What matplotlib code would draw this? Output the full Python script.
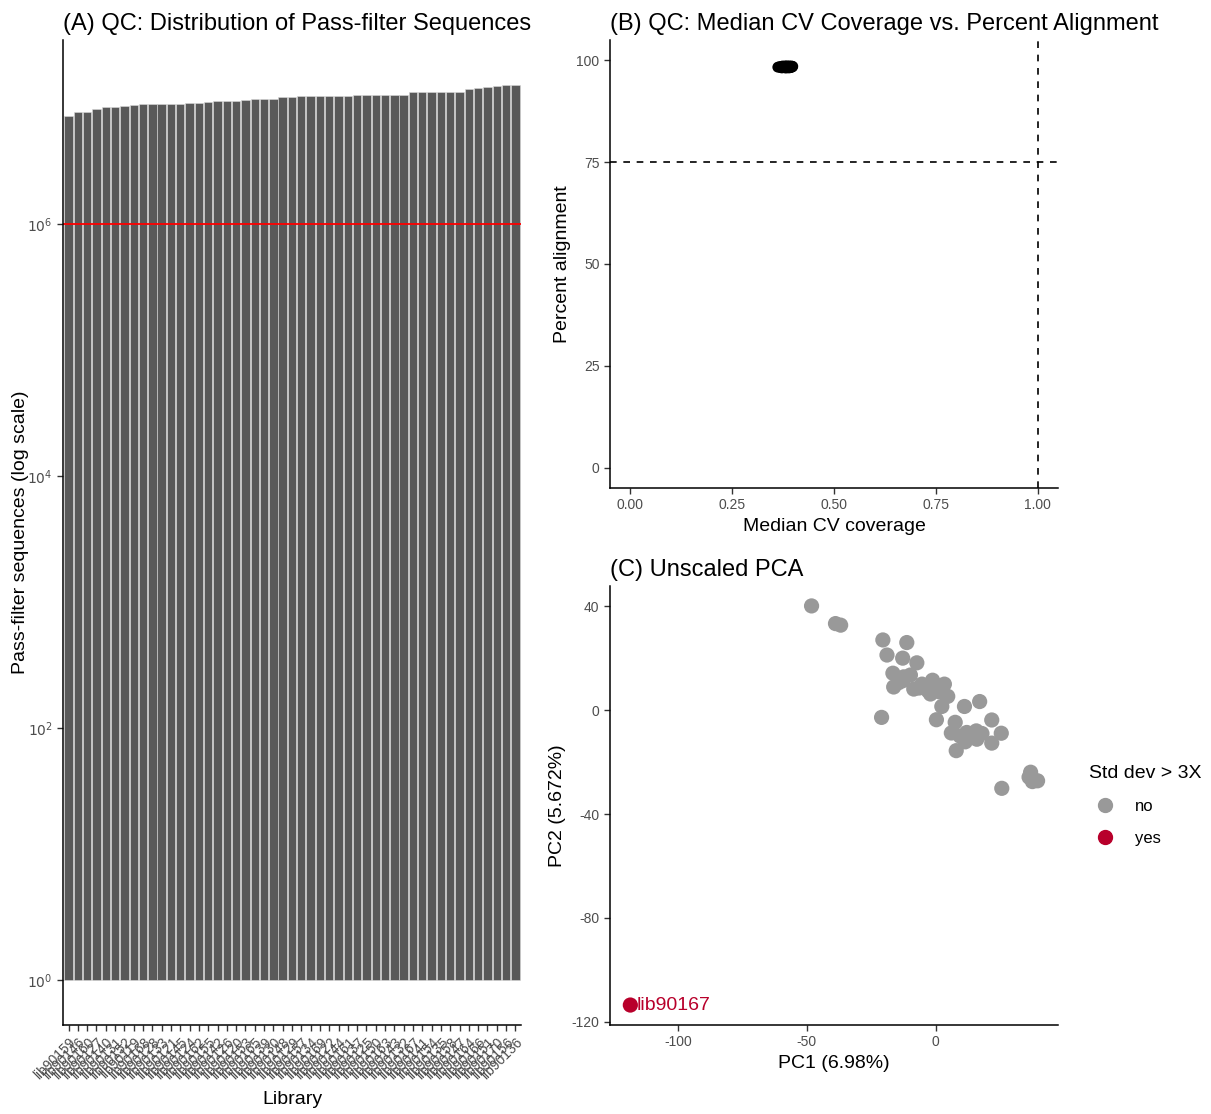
import matplotlib
matplotlib.use("Agg")
import matplotlib.pyplot as plt
from matplotlib.lines import Line2D
from matplotlib.ticker import FixedLocator, FuncFormatter, NullLocator
import numpy as np

plt.rcParams['font.family'] = ['Liberation Sans', 'DejaVu Sans']
plt.rcParams['axes.unicode_minus'] = False

# =========================
# DATA
# =========================
lib_names = ["lib90159", "lib90146", "lib90160", "lib90127", "lib90140", "lib90131", "lib90152", "lib90119", "lib90168", "lib90128",
             "lib90133", "lib90121", "lib90145", "lib90124", "lib90162", "lib90155", "lib90142", "lib90126", "lib90120", "lib90153",
             "lib90165", "lib90139", "lib90130", "lib90148", "lib90129", "lib90157", "lib90134", "lib90169", "lib90122", "lib90144",
             "lib90161", "lib90137", "lib90125", "lib90150", "lib90163", "lib90143", "lib90132", "lib90167", "lib90141", "lib90154",
             "lib90135", "lib90158", "lib90147", "lib90164", "lib90166", "lib90151", "lib90170", "lib90156", "lib90136"]

# pass-filter sequences, millions
pf_seqs_m = [7.20, 7.70, 7.80, 8.24, 8.44, 8.44, 8.71, 8.80, 8.95, 8.96,
             8.96, 8.97, 8.98, 9.08, 9.10, 9.29, 9.46, 9.53, 9.55, 9.71,
             9.76, 9.78, 9.89, 10.25, 10.27, 10.31, 10.32, 10.33, 10.33, 10.34,
             10.35, 10.57, 10.59, 10.60, 10.61, 10.62, 10.63, 11.17, 11.19, 11.20,
             11.21, 11.23, 11.25, 11.78, 12.00, 12.30, 12.53, 12.67, 12.76]
pf_threshold = 1e6

cv_coverage = [0.362, 0.365, 0.368, 0.370, 0.371, 0.372, 0.373, 0.374, 0.375, 0.376,
               0.377, 0.378, 0.378, 0.379, 0.380, 0.380, 0.381, 0.381, 0.382, 0.382,
               0.383, 0.383, 0.384, 0.384, 0.385, 0.385, 0.386, 0.386, 0.387, 0.387,
               0.388, 0.388, 0.389, 0.389, 0.390, 0.390, 0.391, 0.391, 0.392, 0.392,
               0.393, 0.393, 0.394, 0.394, 0.395, 0.396, 0.397, 0.398, 0.399]
pct_alignment = [98.3, 98.4, 98.2, 98.5, 98.3, 98.1, 98.4, 98.6, 98.2, 98.3,
                 98.5, 98.2, 98.4, 98.3, 98.6, 98.1, 98.4, 98.3, 98.5, 98.2,
                 98.4, 98.6, 98.3, 98.1, 98.5, 98.3, 98.4, 98.2, 98.6, 98.3,
                 98.4, 98.2, 98.5, 98.3, 98.1, 98.4, 98.6, 98.3, 98.5, 98.2,
                 98.4, 98.3, 98.5, 98.2, 98.4, 98.6, 98.3, 98.4, 98.5]
cv_cutoff = 1.0
align_cutoff = 75

pc1 = [-48.2, -38.9, -36.9, -20.5, -11.2, -18.9, -12.8, -7.3, -16.6, -12.4,
       -9.8, -16.3, -12.8, -8.5, -5.3, -1.2, -0.1, 3.4, -2.0, 4.7,
       2.4, 11.2, 17.1, -21.0, 0.3, 7.6, 6.1, 12.1, 15.8, 21.8,
       25.5, 11.5, 16.0, 21.8, 8.0, 25.7, 36.9, 37.6, 39.6, 36.3,
       -3.0, 14.0, 9.5, -14.5, 13.5, 18.0, -6.5, 1.5]
pc2 = [40.1, 33.3, 32.7, 27.0, 26.0, 21.2, 20.0, 18.2, 14.2, 12.8,
       13.5, 8.9, 11.3, 8.1, 10.0, 11.5, 9.0, 10.0, 6.2, 5.3,
       1.4, 1.4, 3.3, -2.8, -3.7, -4.7, -8.8, -8.6, -8.0, -3.8,
       -8.9, -12.2, -11.2, -12.7, -15.6, -30.1, -23.9, -27.5, -27.2, -25.8,
       7.5, -10.5, -10.0, 10.5, -9.5, -9.0, 8.5, 7.0]
outlier_name = "lib90167"
outlier_pc1 = -118.6
outlier_pc2 = -113.5

# =========================
# STYLE
# =========================
BAR_COL = "#595959"
GREY_PT = "#999999"
RED_PT = "#B8002B"
TICK_COL = "#4D4D4D"


def classic(ax):
    for s in ["top", "right"]:
        ax.spines[s].set_visible(False)
    for s in ["left", "bottom"]:
        ax.spines[s].set_linewidth(1.1)
        ax.spines[s].set_color("black")
    ax.tick_params(length=4, width=1.0, color="#333333", labelcolor=TICK_COL, labelsize=10)


fig = plt.figure(figsize=(12.11, 11.14), dpi=100)

# =========================
# (A) BAR CHART
# =========================
ax_a = fig.add_axes([0.0520, 0.0799, 0.3782, 0.8842])
x = np.arange(1, len(lib_names) + 1)
vals = np.array(pf_seqs_m) * 1e6
ax_a.bar(x, vals - 1, bottom=1, width=0.9, color=BAR_COL, edgecolor="#D9D9D9", linewidth=0.4)
ax_a.axhline(pf_threshold, color="red", linewidth=1.3)
ax_a.set_yscale("log")
top = np.log10(vals.max())
ax_a.set_ylim(10 ** (-0.05 * top), 10 ** (1.05 * top))
ax_a.set_xlim(0.4, len(lib_names) + 0.6)
ax_a.yaxis.set_major_locator(FixedLocator([1, 1e2, 1e4, 1e6]))
ax_a.yaxis.set_minor_locator(NullLocator())
ax_a.yaxis.set_major_formatter(FuncFormatter(lambda v, p: r"$10^{%d}$" % round(np.log10(v))))
ax_a.set_xticks(x)
ax_a.set_xticklabels(lib_names, rotation=45, ha="right", va="top", rotation_mode="anchor")
classic(ax_a)
ax_a.tick_params(axis="x", labelsize=10)
ax_a.set_xlabel("Library", fontsize=14, labelpad=6)
ax_a.set_ylabel("Pass-filter sequences (log scale)", fontsize=14, labelpad=-1)
ax_a.set_title("(A) QC: Distribution of Pass-filter Sequences", loc="left", fontsize=17, pad=7)

# =========================
# (B) CV COVERAGE VS ALIGNMENT
# =========================
ax_b = fig.add_axes([0.5037, 0.5620, 0.3699, 0.4022])
ax_b.scatter(cv_coverage, pct_alignment, s=60, color="black", edgecolors="none")
ax_b.axhline(align_cutoff, color="black", linestyle=(0, (4, 4)), linewidth=1.2)
ax_b.axvline(cv_cutoff, color="black", linestyle=(0, (4, 4)), linewidth=1.2)
ax_b.set_xlim(-0.05, 1.05)
ax_b.set_ylim(-5, 105)
ax_b.set_xticks([0, 0.25, 0.5, 0.75, 1.0])
ax_b.set_xticklabels(["0.00", "0.25", "0.50", "0.75", "1.00"])
ax_b.set_yticks([0, 25, 50, 75, 100])
classic(ax_b)
ax_b.set_xlabel("Median CV coverage", fontsize=14)
ax_b.set_ylabel("Percent alignment", fontsize=14)
ax_b.set_title("(B) QC: Median CV Coverage vs. Percent Alignment", loc="left", fontsize=17, pad=7)

# =========================
# (C) PCA
# =========================
ax_c = fig.add_axes([0.5037, 0.0799, 0.3699, 0.3941])
ax_c.scatter(pc1, pc2, s=120, color=GREY_PT, edgecolors="none")
ax_c.scatter([outlier_pc1], [outlier_pc2], s=120, color=RED_PT, edgecolors="none")
ax_c.text(outlier_pc1 + 2.5, outlier_pc2, outlier_name, color=RED_PT, fontsize=14,
          ha="left", va="center")
all_x = pc1 + [outlier_pc1]
all_y = pc2 + [outlier_pc2]
rx = max(all_x) - min(all_x)
ry = max(all_y) - min(all_y)
ax_c.set_xlim(min(all_x) - 0.05 * rx, max(all_x) + 0.05 * rx)
ax_c.set_ylim(min(all_y) - 0.05 * ry, max(all_y) + 0.05 * ry)
ax_c.set_xticks([-100, -50, 0])
ax_c.set_yticks([-120, -80, -40, 0, 40])
classic(ax_c)
ax_c.set_xlabel("PC1 (6.98%)", fontsize=14)
ax_c.set_ylabel("PC2 (5.672%)", fontsize=14)
ax_c.set_title("(C) Unscaled PCA", loc="left", fontsize=17, pad=7)

handles = [Line2D([], [], marker="o", linestyle="none", markersize=10, color=GREY_PT, label="no"),
           Line2D([], [], marker="o", linestyle="none", markersize=10, color=RED_PT, label="yes")]
leg = ax_c.legend(handles=handles, title="Std dev > 3X", loc="center left", bbox_to_anchor=(1.035, 0.5),
                  frameon=False, fontsize=12, title_fontsize=14, alignment="left",
                  handletextpad=0.8, labelspacing=1.0)

fig.savefig("out.png", dpi=100)
